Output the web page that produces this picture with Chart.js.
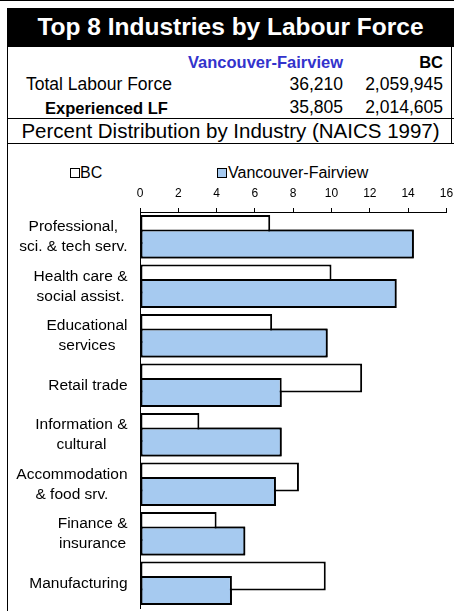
<!DOCTYPE html>
<html lang="en">
<head>
    <meta charset="UTF-8">
    <title>Top 8 Industries by Labour Force</title>
    <script src="https://cdn.jsdelivr.net/npm/chart.js"></script>
    <style>
        body {
            margin: 0;
            width: 454px;
            height: 611px;
            overflow: hidden;
            background: #fff;
            position: relative;
            font-family: "Liberation Sans", Arial, sans-serif;
            color: #000;
        }

        .abs { position: absolute; white-space: nowrap; }
        .line { position: absolute; background: #000; }

        .title-box {
            position: absolute;
            left: 7px; top: 8px;
            width: 447px; height: 39px;
            background: #000;
        }

        .title {
            left: 7px; width: 447px; top: 15px;
            text-align: center;
            color: #fff;
            font-weight: bold;
            font-size: 24.5px;
            line-height: 24.5px;
        }

        .hdr { font-weight: bold; font-size: 16.5px; line-height: 16.5px; top: 53.5px; }
        .num { font-size: 17.5px; line-height: 17.5px; text-align: right; }
        .sub {
            left: 7px; width: 447px; top: 121px;
            text-align: center;
            font-size: 20.5px; line-height: 20.5px;
        }

        .legend-box {
            position: absolute;
            width: 8px; height: 8px;
            border: 1px solid #000;
        }

        .legend-text { font-size: 16px; line-height: 16px; top: 164.5px; }

        #chartWrap { position: absolute; left: 8px; top: 145px; }
    </style>
</head>
<body>
    <div class="line" style="left:0;top:0;width:454px;height:1px"></div>
    <div class="title-box"></div>
    <div class="abs title" id="title"></div>

    <div class="line" style="left:6.5px;top:47px;width:1.5px;height:564px"></div>
    <div class="line" style="left:450.5px;top:47px;width:1.5px;height:97px"></div>
    <div class="line" style="left:7px;top:117.5px;width:447px;height:1.5px"></div>
    <div class="line" style="left:7px;top:142.5px;width:447px;height:1.5px"></div>

    <div id="table"></div>
    <div class="abs sub" id="subtitle"></div>
    <div id="legend"></div>

    <div id="chartWrap"><canvas id="industryChart" width="446" height="466"></canvas></div>

    <script>
        const titleText = 'Top 8 Industries by Labour Force';
        const subtitleText = 'Percent Distribution by Industry (NAICS 1997)';
        const areaName = 'Vancouver-Fairview';
        const provName = 'BC';

        const rowLabels = ['Total Labour Force', 'Experienced LF'];
        const areaTotals = ['36,210', '35,805'];
        const provTotals = ['2,059,945', '2,014,605'];

        const categories = [
            ['Professional,', 'sci. & tech serv.'],
            ['Health care &', 'social assist.'],
            ['Educational', 'services'],
            ['Retail trade'],
            ['Information &', 'cultural'],
            ['Accommodation', '& food srv.'],
            ['Finance &', 'insurance'],
            ['Manufacturing']
        ];
        const bcValues = [6.8, 10.0, 6.9, 11.6, 3.1, 8.3, 4.0, 9.7];
        const areaValues = [14.3, 13.4, 9.8, 7.4, 7.4, 7.1, 5.5, 4.8];

        const FONT = '"Liberation Sans", Arial, sans-serif';
        const blue = '#a6caf0';

        document.getElementById('title').textContent = titleText;
        document.getElementById('subtitle').textContent = subtitleText;

        // header table
        const table = document.getElementById('table');
        function addText(cls, text, style) {
            const d = document.createElement('div');
            d.className = 'abs ' + cls;
            d.textContent = text;
            d.setAttribute('style', style);
            table.appendChild(d);
            return d;
        }
        addText('hdr', areaName, 'right:111px;color:#3333cc');
        addText('hdr', provName, 'right:11px');
        const rowTops = [76.25, 99.25];
        rowLabels.forEach(function (lbl, i) {
            if (i === 0) {
                addText('num', lbl, 'left:26px;top:' + rowTops[i] + 'px;text-align:left');
            } else {
                addText('hdr', lbl, 'left:45px;top:' + (rowTops[i] + 0.5) + 'px');
            }
            addText('num', areaTotals[i], 'right:111px;top:' + rowTops[i] + 'px');
            addText('num', provTotals[i], 'right:11px;top:' + rowTops[i] + 'px');
        });

        // legend
        const legend = document.getElementById('legend');
        [[provName, '#fff', 70, 80], [areaName, blue, 217, 228]].forEach(function (item) {
            const box = document.createElement('div');
            box.className = 'legend-box';
            box.style.left = item[2] + 'px';
            box.style.top = '168px';
            box.style.background = item[1];
            legend.appendChild(box);
            const t = document.createElement('div');
            t.className = 'abs legend-text';
            t.style.left = item[3] + 'px';
            t.textContent = item[0];
            legend.appendChild(t);
        });

        // draw the area bars again so they sit over the BC bars
        const areaOnTop = {
            id: 'areaOnTop',
            afterDatasetsDraw(chart) {
                const meta = chart.getDatasetMeta(1);
                meta.data.forEach(function (bar) { bar.draw(chart.ctx); });
            }
        };

        // category labels: block right aligned, lines centred inside the block
        const catLabels = {
            id: 'catLabels',
            afterDraw(chart) {
                const ctx = chart.ctx;
                const yScale = chart.scales.y;
                const right = yScale.right - 12.5;
                ctx.save();
                ctx.font = '15.5px ' + FONT;
                ctx.fillStyle = '#000';
                ctx.textAlign = 'center';
                ctx.textBaseline = 'middle';
                categories.forEach(function (lines, i) {
                    const cy = yScale.getPixelForTick(i);
                    const block = Math.max.apply(null, lines.map(function (l) { return ctx.measureText(l).width; }));
                    const cx = right - block / 2;
                    lines.forEach(function (l, j) {
                        ctx.fillText(l, cx, cy + (j - (lines.length - 1) / 2) * 20);
                    });
                });
                ctx.restore();
            }
        };

        const barStyle = {
            borderColor: '#000',
            borderWidth: 2,
            borderSkipped: false,
            categoryPercentage: 29 / 49.5,
            barPercentage: 2
        };

        new Chart(document.getElementById('industryChart').getContext('2d'), {
            type: 'bar',
            data: {
                labels: categories,
                datasets: [
                    Object.assign({ label: provName, data: bcValues, backgroundColor: '#fff' }, barStyle),
                    Object.assign({ label: areaName, data: areaValues, backgroundColor: blue }, barStyle)
                ]
            },
            options: {
                indexAxis: 'y',
                responsive: false,
                animation: false,
                layout: { padding: { left: 0, right: 0, top: 0, bottom: 3 } },
                plugins: {
                    legend: { display: false },
                    tooltip: { enabled: false }
                },
                scales: {
                    x: {
                        position: 'top',
                        min: 0,
                        max: 16,
                        ticks: {
                            stepSize: 2,
                            color: '#000',
                            padding: 7,
                            font: { family: FONT, size: 12 }
                        },
                        grid: {
                            drawOnChartArea: false,
                            drawTicks: true,
                            tickLength: 4,
                            color: '#000'
                        },
                        border: { color: '#000', width: 1 },
                        afterFit: function (scale) {
                            scale.height = 67;
                            scale.paddingLeft = 0;
                            scale.paddingRight = 7.6;
                        }
                    },
                    y: {
                        ticks: { display: false },
                        grid: { display: false },
                        border: { color: '#000', width: 1 },
                        afterFit: function (scale) { scale.width = 132; }
                    }
                }
            },
            plugins: [areaOnTop, catLabels]
        });
    </script>
</body>
</html>
